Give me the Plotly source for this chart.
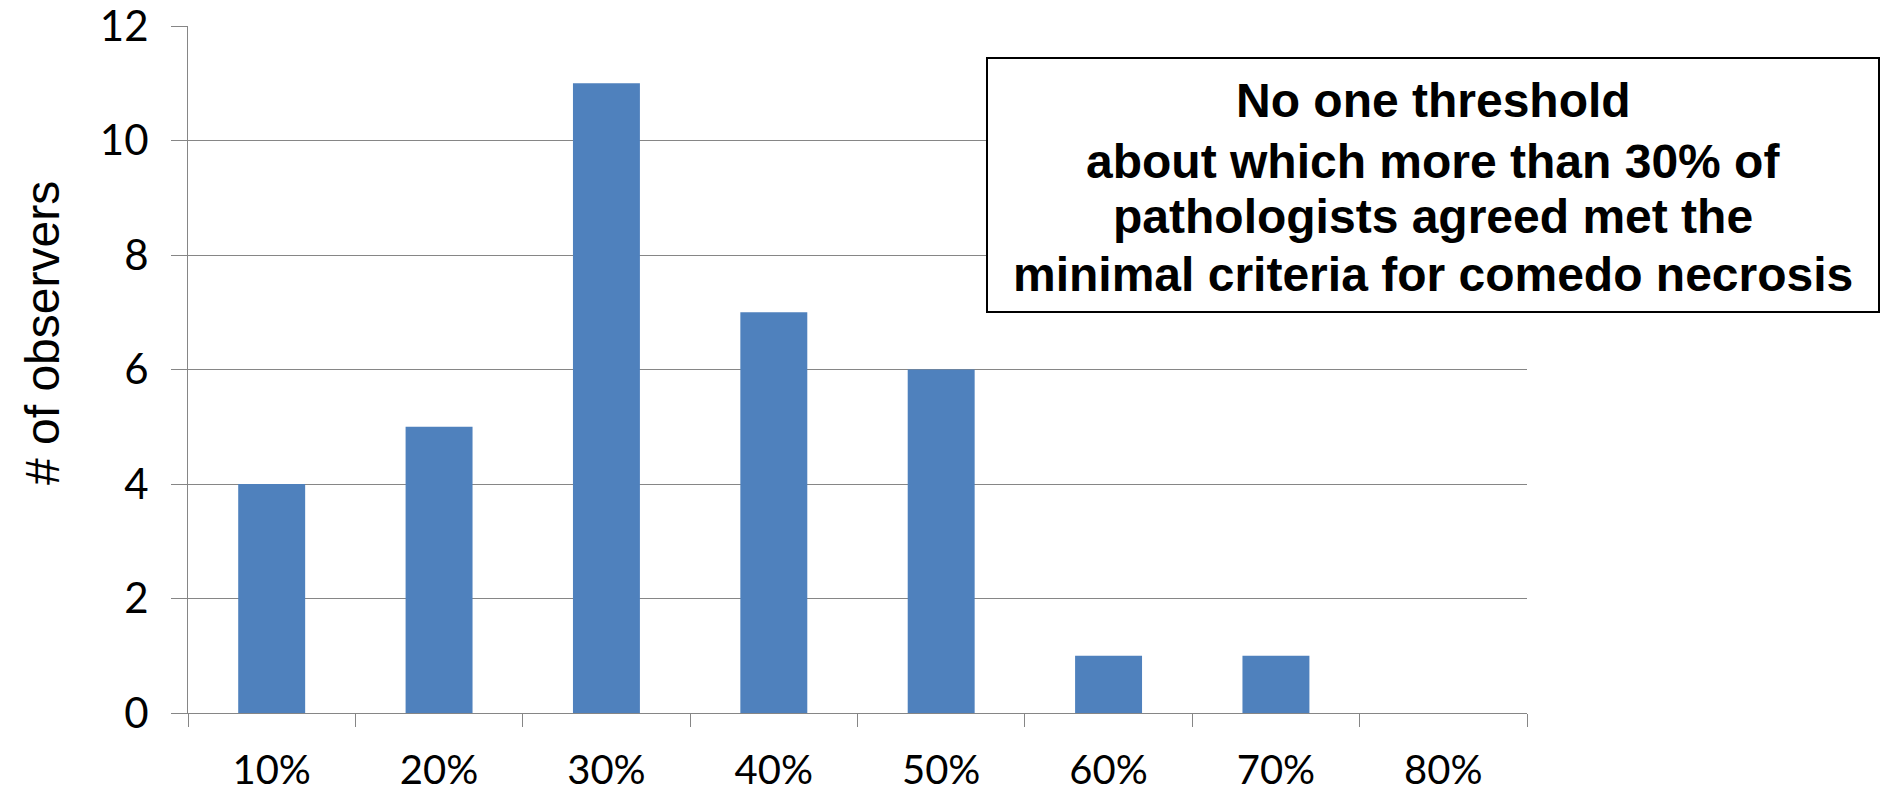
import plotly.graph_objects as go

categories = ["10%", "20%", "30%", "40%", "50%", "60%", "70%", "80%"]
observers = [4, 5, 11, 7, 6, 1, 1, 0]
y_ticks = [0, 2, 4, 6, 8, 10, 12]
y_title = "# of observers"
note_lines = [
    "No one threshold",
    "about which more than 30% of",
    "pathologists agreed met the",
    "minimal criteria for comedo necrosis",
]

W, H = 1882, 792
X0, X1, Y0, Y1 = 188, 1527, 713, 26
L, R, T, B = X0, W - X1, Y1, H - Y0

fig = go.Figure()
fig.add_trace(go.Bar(
    x=categories, y=observers,
    marker=dict(color="#4F81BD", line=dict(width=0)),
    showlegend=False,
))

grid = "#868686"
fig.update_layout(
    width=W, height=H,
    margin=dict(l=L, r=R, t=T, b=B, pad=0, autoexpand=False),
    paper_bgcolor="white", plot_bgcolor="white",
    bargap=0.6,
    font=dict(family="Lato, Liberation Sans, sans-serif", color="black"),
    xaxis=dict(
        type="category", automargin=False,
        tickson="boundaries",
        ticks="outside", ticklen=13, tickcolor=grid, tickwidth=1,
        showline=True, linecolor=grid, linewidth=1,
        showgrid=False,
        tickfont=dict(size=40, family="Lato, sans-serif"),
        ticklabelstandoff=22,
        ticklabeloverflow="allow",
        range=[-0.5, 7.5],
    ),
    yaxis=dict(
        range=[0, 12], automargin=False,
        tickvals=y_ticks,
        ticks="outside", ticklen=16, tickcolor=grid, tickwidth=1,
        showline=True, linecolor=grid, linewidth=1,
        showgrid=True, gridcolor=grid, gridwidth=1,
        zeroline=False,
        tickfont=dict(size=42, family="Lato, sans-serif"),
        ticklabelstandoff=14,
        ticklabeloverflow="allow",
    ),
)

pw = X1 - X0
ph = Y0 - Y1
def px(x):
    return (x - X0) / pw
def py(y):
    return (Y0 - y) / ph

fig.add_annotation(xref="paper", yref="paper",
                   x=px(42), y=py(333), xanchor="center", yanchor="middle",
                   text=y_title, textangle=-90, showarrow=False,
                   font=dict(size=48, family="Liberation Sans, Arial, sans-serif", color="black"))

fig.add_shape(type="rect", xref="paper", yref="paper",
              x0=px(987), x1=px(1879), y0=py(312), y1=py(58),
              line=dict(color="black", width=2), fillcolor="white", layer="above")

line_centers = [100, 161, 217, 274]
for s, yc in zip(note_lines, line_centers):
    fig.add_annotation(xref="paper", yref="paper",
                       x=px(1433), y=py(yc), xanchor="center", yanchor="middle",
                       text="<b>%s</b>" % s,
                       showarrow=False, align="center",
                       font=dict(size=48, family="Liberation Sans, Arial, sans-serif", color="black"))

fig.write_html("out.html")
